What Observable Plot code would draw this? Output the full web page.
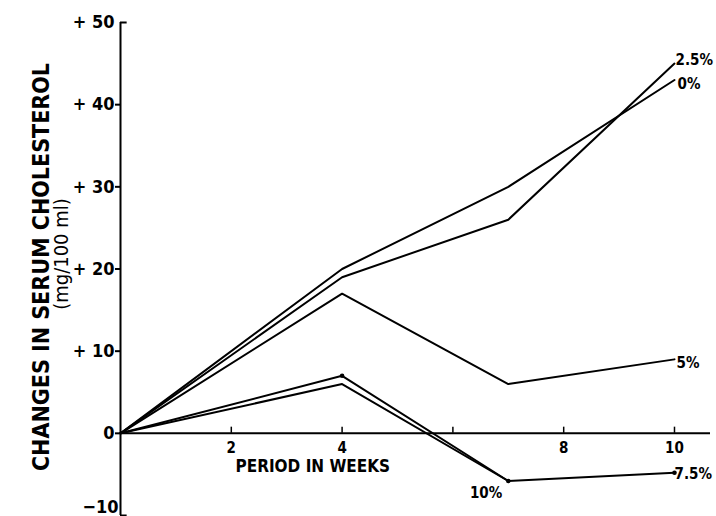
<!DOCTYPE html>
<html><head><meta charset="utf-8">
<script src="https://cdn.jsdelivr.net/npm/d3@7"></script>
<script src="https://cdn.jsdelivr.net/npm/@observablehq/plot@0.6"></script>
<style>body{margin:0;background:#fff}</style>
</head><body><div id="chart"></div>
<script>
const weeks = [0, 4, 7, 10];
const weeks10 = [0, 4, 7];
const pct0 = [0, 20, 30, 43];
const pct25 = [0, 19, 26, 45];
const pct5 = [0, 17, 6, 9];
const pct75 = [0, 7, -5.8, -4.8];
const pct10 = [0, 6, -5.8];
const seriesNames = ["0%", "2.5%", "5%", "7.5%", "10%"];
const yTicks = [0, 10, 20, 30, 40, 50];
const yTickLabels = ["0", "+ 10", "+ 20", "+ 30", "+ 40", "+ 50"];
const yBottomTick = [-10];
const yBottomLabel = ["\u221210"];
const xTicks = [2, 4, 6, 8, 10];
const xTickLabels = ["2", "4", "", "8", "10"];
const dotWeeks = [4, 7, 10];
const dotValues = [7, -5.8, -4.8];
const xTitle = "PERIOD IN WEEKS";
const yTitle = "CHANGES IN SERUM CHOLESTEROL";
const yUnit = "(mg/100 ml)";

const FONT = '"DejaVu Sans Condensed","Liberation Sans Narrow","DejaVu Sans",sans-serif';

const seriesData = [
  [seriesNames[0], weeks, pct0],
  [seriesNames[1], weeks, pct25],
  [seriesNames[2], weeks, pct5],
  [seriesNames[3], weeks, pct75],
  [seriesNames[4], weeks10, pct10]
];
const rows = [];
for (const [name, ws, vs] of seriesData) ws.forEach((w, i) => rows.push({series: name, week: w, value: vs[i]}));
const ends = seriesData.map(([name, ws, vs]) => ({series: name, week: ws[ws.length - 1], value: vs[vs.length - 1]}));
const dots = dotWeeks.map((w, i) => ({week: w, value: dotValues[i]}));

const labelStyle = {
  "0%":   {dx: 3, dy: 4, textAnchor: "start"},
  "2.5%": {dx: 1, dy: -3, textAnchor: "start"},
  "5%":   {dx: 2, dy: 4, textAnchor: "start"},
  "7.5%": {dx: 0, dy: 1, textAnchor: "start"},
  "10%":  {dx: -6, dy: 12, textAnchor: "end"}
};

const labelMarks = ends.map(e => Plot.text([e], {
  x: "week", y: "value", text: "series",
  fontSize: 15, fontWeight: "bold", lineAnchor: "middle",
  ...labelStyle[e.series]
}));

const chart = Plot.plot({
  width: 716, height: 516,
  marginLeft: 120, marginRight: 6, marginTop: 22, marginBottom: 1,
  x: {domain: [0, 10.65], axis: null},
  y: {domain: [-10, 50], axis: null},
  style: {fontFamily: FONT, background: "#fff", color: "#000"},
  marks: [
    Plot.ruleX([0], {y1: -10, y2: 50, strokeWidth: 2}),
    Plot.ruleY([0], {x1: 0, x2: 10.65, strokeWidth: 2}),
    Plot.ruleY([0, 10, 20, 30, 40], {y: d => d, x1: -0.09, x2: 0, strokeWidth: 2}),
    Plot.ruleY([50, -10], {y: d => d, x1: 0, x2: 0.12, strokeWidth: 2}),
    Plot.ruleX(xTicks, {x: d => d, y1: 0, y2: 0.75, strokeWidth: 1.5}),
    Plot.text(yTicks, {x: 0, y: d => d, text: (d, i) => yTickLabels[i], textAnchor: "end", dx: -6, fontSize: 18, fontWeight: "bold", lineAnchor: "middle"}),
    Plot.text(yBottomTick, {x: 0, y: d => d, text: (d, i) => yBottomLabel[i], textAnchor: "end", dx: -2, dy: -8, fontSize: 18, fontWeight: "bold", lineAnchor: "middle"}),
    Plot.text(xTicks, {x: d => d, y: 0, text: (d, i) => xTickLabels[i], dy: 15, fontSize: 15, fontWeight: "bold", lineAnchor: "middle"}),
    Plot.text([xTitle], {text: d => d, frameAnchor: "top-left", dx: 115, dy: 444.5, textAnchor: "start", lineAnchor: "middle", fontSize: 17, fontWeight: "bold"}),
    Plot.text([yTitle], {text: d => d, frameAnchor: "left", rotate: -90, dx: -79, dy: -2, textAnchor: "middle", lineAnchor: "middle", fontSize: 23, fontWeight: "bold"}),
    Plot.text([yUnit], {text: d => d, frameAnchor: "left", rotate: -90, dx: -59, dy: -15, textAnchor: "middle", lineAnchor: "middle", fontSize: 20}),
    Plot.line(rows, {x: "week", y: "value", z: "series", stroke: "#000", strokeWidth: 2}),
    Plot.dot(dots, {x: "week", y: "value", r: 2.3, fill: "#000"}),
    ...labelMarks
  ]
});
document.getElementById("chart").appendChild(chart);
</script>
</body></html>
